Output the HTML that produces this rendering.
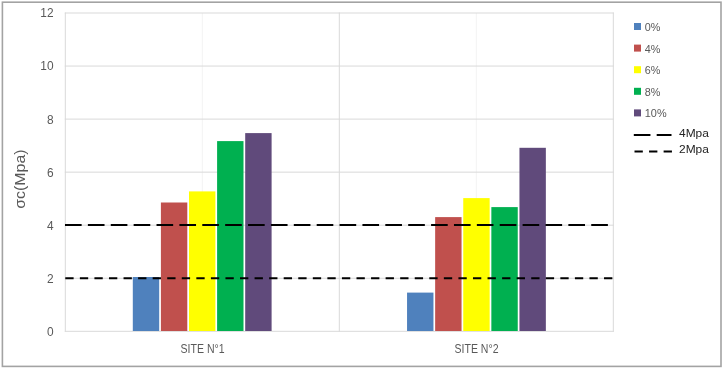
<!DOCTYPE html><html><head><meta charset="utf-8"><style>html,body{margin:0;padding:0;background:#fff;}svg{display:block;}text{font-family:"Liberation Sans",sans-serif;}svg{will-change:transform;}</style></head><body>
<svg width="724" height="369" viewBox="0 0 724 369">
<rect x="0" y="0" width="724" height="369" fill="#fff"/>
<rect x="2.4" y="2.2" width="718.6" height="364.2" fill="none" stroke="#a3a3a3" stroke-width="1.6"/>
<line x1="202.3" y1="13" x2="202.3" y2="331" stroke="#f3f3f3" stroke-width="1"/>
<line x1="476.3" y1="13" x2="476.3" y2="331" stroke="#f3f3f3" stroke-width="1"/>
<line x1="64.8" y1="13.00" x2="613.8" y2="13.00" stroke="#d9d9d9" stroke-width="1"/>
<line x1="64.8" y1="66.05" x2="613.8" y2="66.05" stroke="#d9d9d9" stroke-width="1"/>
<line x1="64.8" y1="119.10" x2="613.8" y2="119.10" stroke="#d9d9d9" stroke-width="1"/>
<line x1="64.8" y1="172.15" x2="613.8" y2="172.15" stroke="#d9d9d9" stroke-width="1"/>
<line x1="64.8" y1="225.20" x2="613.8" y2="225.20" stroke="#d9d9d9" stroke-width="1"/>
<line x1="64.8" y1="278.25" x2="613.8" y2="278.25" stroke="#d9d9d9" stroke-width="1"/>
<line x1="64.8" y1="331.30" x2="613.8" y2="331.30" stroke="#d9d9d9" stroke-width="1"/>
<line x1="65.3" y1="12.5" x2="65.3" y2="331.8" stroke="#d9d9d9" stroke-width="1"/>
<line x1="339.3" y1="12.5" x2="339.3" y2="331.8" stroke="#d9d9d9" stroke-width="1"/>
<line x1="613.3" y1="12.5" x2="613.3" y2="331.8" stroke="#d9d9d9" stroke-width="1"/>
<rect x="132.80" y="277.00" width="26.40" height="54.00" fill="#4F81BD"/>
<rect x="160.90" y="202.50" width="26.40" height="128.50" fill="#C0504D"/>
<rect x="189.00" y="191.40" width="26.40" height="139.60" fill="#FFFF00"/>
<rect x="217.10" y="141.10" width="26.40" height="189.90" fill="#00B050"/>
<rect x="245.20" y="133.10" width="26.40" height="197.90" fill="#604A7B"/>
<rect x="407.05" y="292.60" width="26.40" height="38.40" fill="#4F81BD"/>
<rect x="435.15" y="217.10" width="26.40" height="113.90" fill="#C0504D"/>
<rect x="463.25" y="198.10" width="26.40" height="132.90" fill="#FFFF00"/>
<rect x="491.35" y="207.10" width="26.40" height="123.90" fill="#00B050"/>
<rect x="519.45" y="147.80" width="26.40" height="183.20" fill="#604A7B"/>
<line x1="65" y1="225" x2="613" y2="225" stroke="#000" stroke-width="2.08" stroke-dasharray="16.64 6.24"/>
<line x1="65.3" y1="278.3" x2="613" y2="278.3" stroke="#000" stroke-width="2.08" stroke-dasharray="8.32 6.24"/>
<text x="53.6" y="336.27" font-size="11.9" fill="#595959" text-anchor="end">0</text>
<text x="53.6" y="283.10" font-size="11.9" fill="#595959" text-anchor="end">2</text>
<text x="53.6" y="229.93" font-size="11.9" fill="#595959" text-anchor="end">4</text>
<text x="53.6" y="176.76" font-size="11.9" fill="#595959" text-anchor="end">6</text>
<text x="53.6" y="123.59" font-size="11.9" fill="#595959" text-anchor="end">8</text>
<text x="53.6" y="70.42" font-size="11.9" fill="#595959" text-anchor="end">10</text>
<text x="53.6" y="17.25" font-size="11.9" fill="#595959" text-anchor="end">12</text>
<text transform="translate(25.4,179.1) rotate(-90)" x="0" y="0" font-size="15.5" fill="#595959" text-anchor="middle" textLength="59.2" lengthAdjust="spacingAndGlyphs">σc(Mpa)</text>
<text x="202.6" y="352.9" font-size="12.3" fill="#595959" text-anchor="middle" textLength="44" lengthAdjust="spacingAndGlyphs">SITE N°1</text>
<text x="476.5" y="352.9" font-size="12.3" fill="#595959" text-anchor="middle" textLength="44" lengthAdjust="spacingAndGlyphs">SITE N°2</text>
<rect x="634" y="23.0" width="7" height="7" fill="#4F81BD"/>
<text x="644.8" y="31.0" font-size="11.2" fill="#595959" textLength="15.6" lengthAdjust="spacingAndGlyphs">0%</text>
<rect x="634" y="44.6" width="7" height="7" fill="#C0504D"/>
<text x="644.8" y="52.6" font-size="11.2" fill="#595959" textLength="15.6" lengthAdjust="spacingAndGlyphs">4%</text>
<rect x="634" y="66.2" width="7" height="7" fill="#FFFF00"/>
<text x="644.8" y="74.2" font-size="11.2" fill="#595959" textLength="15.6" lengthAdjust="spacingAndGlyphs">6%</text>
<rect x="634" y="87.8" width="7" height="7" fill="#00B050"/>
<text x="644.8" y="95.8" font-size="11.2" fill="#595959" textLength="15.6" lengthAdjust="spacingAndGlyphs">8%</text>
<rect x="634" y="109.4" width="7" height="7" fill="#604A7B"/>
<text x="644.8" y="117.4" font-size="11.2" fill="#595959" textLength="21.8" lengthAdjust="spacingAndGlyphs">10%</text>
<line x1="633.8" y1="135.0" x2="671.5" y2="135.0" stroke="#000" stroke-width="2.08" stroke-dasharray="16.64 6.24"/>
<line x1="634.5" y1="151.5" x2="672.2" y2="151.5" stroke="#000" stroke-width="2.08" stroke-dasharray="8.32 6.24"/>
<text x="679" y="137.1" font-size="11.2" fill="#222" textLength="29.9" lengthAdjust="spacingAndGlyphs">4Mpa</text>
<text x="679" y="153" font-size="11.2" fill="#222" textLength="29.9" lengthAdjust="spacingAndGlyphs">2Mpa</text>
</svg></body></html>
